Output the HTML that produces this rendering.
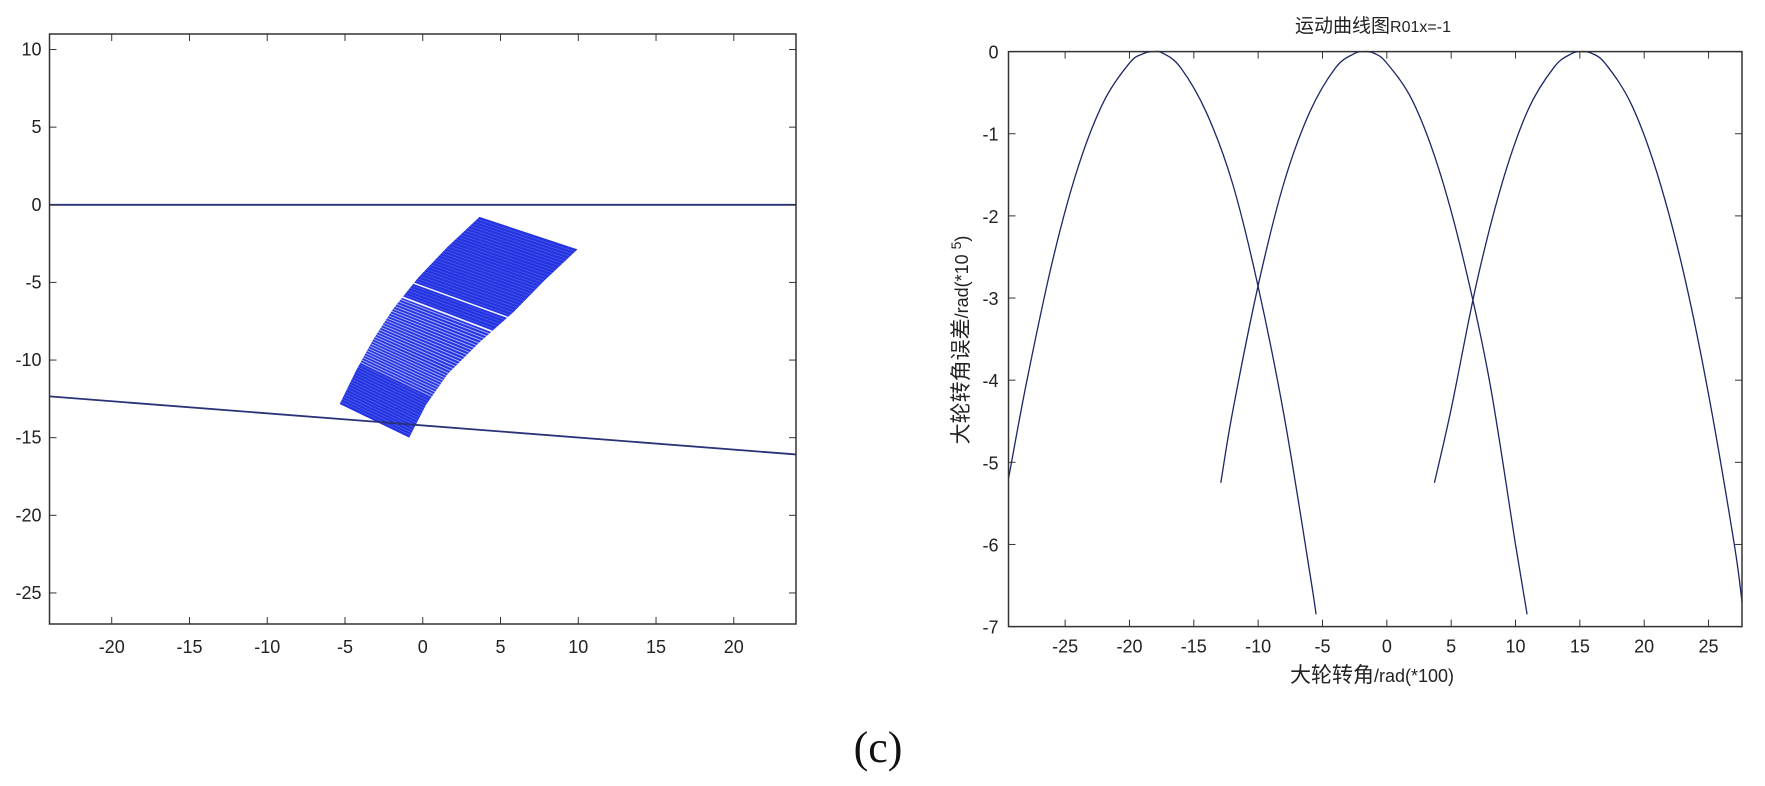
<!DOCTYPE html>
<html><head><meta charset="utf-8">
<style>
html,body{margin:0;padding:0;background:#fff;}
svg{display:block;}
text{font-family:"Liberation Sans","Noto Sans CJK SC",sans-serif;fill:#222;}
</style></head>
<body>
<svg id="fig" width="1765" height="786" viewBox="0 0 1765 786" xmlns="http://www.w3.org/2000/svg">
  <g id="left"></g>
  <g id="right"></g>
  <text x="878" y="762" text-anchor="middle" style="font-family:'Liberation Serif',serif;font-size:44px;fill:#111">(c)</text>
</svg>
<script>
// ---- left plot data ----
const leftXTicks = [-20,-15,-10,-5,0,5,10,15,20];
const leftYTicks = [10,5,0,-5,-10,-15,-20,-25];
const groundLine = [[-24,-12.34],[24,-16.08]];
const zeroLine = [[-24,0],[24,0]];
const meshLeftEdge = [[3.65,-0.78],[1.6,-2.7],[-0.3,-4.7],[-1.9,-6.7],[-3.2,-8.7],[-4.3,-10.7],[-5.34,-12.83]];
const meshRightEdge = [[9.95,-2.87],[7.8,-4.9],[5.85,-6.9],[3.6,-8.9],[1.6,-10.9],[0.2,-12.9],[-0.87,-15.0]];

// ---- right plot data ----
const rightXTicks = [-25,-20,-15,-10,-5,0,5,10,15,20,25];
const rightYTicks = [0,-1,-2,-3,-4,-5,-6,-7];
const curve1X = [-29.4,-28,-26,-24,-22,-20,-19,-18.2,-17.4,-16,-14,-12,-10,-8,-6,-5.5];
const curve1Y = [-5.2,-4.03,-2.56,-1.41,-0.61,-0.14,-0.03,0,-0.02,-0.2,-0.75,-1.6,-2.86,-4.42,-6.33,-6.85];
const curve2X = [-12.9,-12,-10,-8,-6,-4,-2.6,-1.8,-1,0,2,4,6,8,10,10.9];
const curve2Y = [-5.25,-4.4,-2.85,-1.6,-0.74,-0.2,-0.03,0,-0.02,-0.14,-0.6,-1.41,-2.56,-4.03,-6.0,-6.85];
const curve3X = [3.7,5,7,9,11,13,14.3,15.1,15.9,17,19,21,23,25,27,27.6];
const curve3Y = [-5.25,-4.35,-2.8,-1.58,-0.7,-0.19,-0.03,0,-0.02,-0.15,-0.64,-1.48,-2.65,-4.17,-6.0,-6.7];

const NS = "http://www.w3.org/2000/svg";
function mk(tag, attrs, parent){const e=document.createElementNS(NS,tag);for(const k in attrs)e.setAttribute(k,attrs[k]);parent.appendChild(e);return e;}

// ===== LEFT =====
const L = {x0:49.5,x1:796,y0:34,y1:624,xmin:-24,xmax:24,ymin:-27,ymax:11};
const lx = v => L.x0 + (v-L.xmin)/(L.xmax-L.xmin)*(L.x1-L.x0);
const ly = v => L.y1 - (v-L.ymin)/(L.ymax-L.ymin)*(L.y1-L.y0);
const gL = document.getElementById('left');

function interpEdge(edge,t){const n=edge.length-1;const f=t*n;const i=Math.min(Math.floor(f),n-1);const r=f-i;return [edge[i][0]+(edge[i+1][0]-edge[i][0])*r, edge[i][1]+(edge[i+1][1]-edge[i][1])*r];}
const meshG = mk('g',{},gL);


let pts = meshLeftEdge.map(p=>lx(p[0])+','+ly(p[1])).concat(meshRightEdge.slice().reverse().map(p=>lx(p[0])+','+ly(p[1]))).join(' ');
const poly = mk('polygon',{points:pts,fill:'#2434e2'},meshG);


const NL = 80;
for(let i=1;i<NL;i++){
  const t=i/NL;
  const a=interpEdge(meshLeftEdge,t), b=interpEdge(meshRightEdge,t);
  let op=0.22, w=0.6;
  if(t>0.44 && t<0.8){op=0.6;w=1.0;}
  if(t>=0.8){op=0.25;w=0.6;}
  if(Math.abs(t-0.36)<0.007){op=0.95;w=1.5;}
  if(Math.abs(t-0.44)<0.007){op=0.95;w=1.8;}
  const ln=mk('line',{x1:lx(a[0]),y1:ly(a[1]),x2:lx(b[0]),y2:ly(b[1]),stroke:'#ffffff','stroke-opacity':op,'stroke-width':w},meshG);
  
  
}
[zeroLine,groundLine].forEach((ln,i)=>{
  const e=mk('line',{x1:lx(ln[0][0]),y1:ly(ln[0][1]),x2:lx(ln[1][0]),y2:ly(ln[1][1]),stroke:'#2a3278','stroke-width':1.8},gL);
  
  
});
const boxL=mk('rect',{x:L.x0,y:L.y0,width:L.x1-L.x0,height:L.y1-L.y0,fill:'none',stroke:'#333','stroke-width':1.5},gL);


leftXTicks.forEach(v=>{
  const X=lx(v);
  mk('line',{x1:X,y1:L.y1,x2:X,y2:L.y1-7,stroke:'#333','stroke-width':1},gL);
  mk('line',{x1:X,y1:L.y0,x2:X,y2:L.y0+7,stroke:'#333','stroke-width':1},gL);
  const t=mk('text',{x:X,y:L.y1+29,'text-anchor':'middle','font-size':18},gL);
  t.textContent=v;
  
  
});
leftYTicks.forEach(v=>{
  const Y=ly(v);
  mk('line',{x1:L.x0,y1:Y,x2:L.x0+7,y2:Y,stroke:'#333','stroke-width':1},gL);
  mk('line',{x1:L.x1,y1:Y,x2:L.x1-7,y2:Y,stroke:'#333','stroke-width':1},gL);
  const t=mk('text',{x:L.x0-8,y:Y+6,'text-anchor':'end','font-size':18},gL);
  t.textContent=v;
  
  
});

// ===== RIGHT =====
const R = {x0:1008.5,x1:1742,y0:51.6,y1:626.6,xmin:-29.4,xmax:27.6,ymin:-7,ymax:0};
const rx = v => R.x0 + (v-R.xmin)/(R.xmax-R.xmin)*(R.x1-R.x0);
const ry = v => R.y1 - (v-R.ymin)/(R.ymax-R.ymin)*(R.y1-R.y0);
const gR = document.getElementById('right');
function smoothPath(P){
  let d='M'+P[0][0].toFixed(1)+' '+P[0][1].toFixed(1);
  for(let i=0;i<P.length-1;i++){
    const p0=P[Math.max(i-1,0)],p1=P[i],p2=P[i+1],p3=P[Math.min(i+2,P.length-1)];
    const c1=[p1[0]+(p2[0]-p0[0])/6,p1[1]+(p2[1]-p0[1])/6];
    const c2=[p2[0]-(p3[0]-p1[0])/6,p2[1]-(p3[1]-p1[1])/6];
    d+=' C'+c1[0].toFixed(1)+' '+c1[1].toFixed(1)+' '+c2[0].toFixed(1)+' '+c2[1].toFixed(1)+' '+p2[0].toFixed(1)+' '+p2[1].toFixed(1);
  }
  return d;
}
[[curve1X,curve1Y],[curve2X,curve2Y],[curve3X,curve3Y]].forEach((c,i)=>{
  const P=c[0].map((x,j)=>[rx(x),ry(c[1][j])]);
  const p=mk('path',{d:smoothPath(P),fill:'none',stroke:'#1d2566','stroke-width':1.3,'stroke-linejoin':'round'},gR);
  
  
});
const boxR=mk('rect',{x:R.x0,y:R.y0,width:R.x1-R.x0,height:R.y1-R.y0,fill:'none',stroke:'#333','stroke-width':1.5},gR);


rightXTicks.forEach(v=>{
  const X=rx(v);
  mk('line',{x1:X,y1:R.y1,x2:X,y2:R.y1-7,stroke:'#333','stroke-width':1},gR);
  mk('line',{x1:X,y1:R.y0,x2:X,y2:R.y0+7,stroke:'#333','stroke-width':1},gR);
  const t=mk('text',{x:X,y:R.y1+26,'text-anchor':'middle','font-size':18},gR);
  t.textContent=v;
  
  
});
rightYTicks.forEach(v=>{
  const Y=ry(v);
  mk('line',{x1:R.x0,y1:Y,x2:R.x0+7,y2:Y,stroke:'#333','stroke-width':1},gR);
  mk('line',{x1:R.x1,y1:Y,x2:R.x1-7,y2:Y,stroke:'#333','stroke-width':1},gR);
  const t=mk('text',{x:R.x0-10,y:Y+7,'text-anchor':'end','font-size':18},gR);
  t.textContent=v;
  
  
});
</script>
<svg style="position:absolute;left:0;top:0" width="1765" height="786">
  <text x="1373" y="32" text-anchor="middle" font-size="19" style="font-family:'Liberation Sans','Noto Sans CJK SC',sans-serif;fill:#222">运动曲线图<tspan font-size="16">R01x=-1</tspan></text>
  <text x="1372" y="682" text-anchor="middle" font-size="21" style="font-family:'Liberation Sans','Noto Sans CJK SC',sans-serif;fill:#222">大轮转角<tspan font-size="18">/rad(*100)</tspan></text>
  <text transform="translate(968,340) rotate(-90)" text-anchor="middle" font-size="21" style="font-family:'Liberation Sans','Noto Sans CJK SC',sans-serif;fill:#222">大轮转角误差<tspan font-size="18">/rad(*10 </tspan><tspan font-size="14" dy="-7">5</tspan><tspan font-size="18" dy="7">)</tspan></text>
</svg>
</body></html>
